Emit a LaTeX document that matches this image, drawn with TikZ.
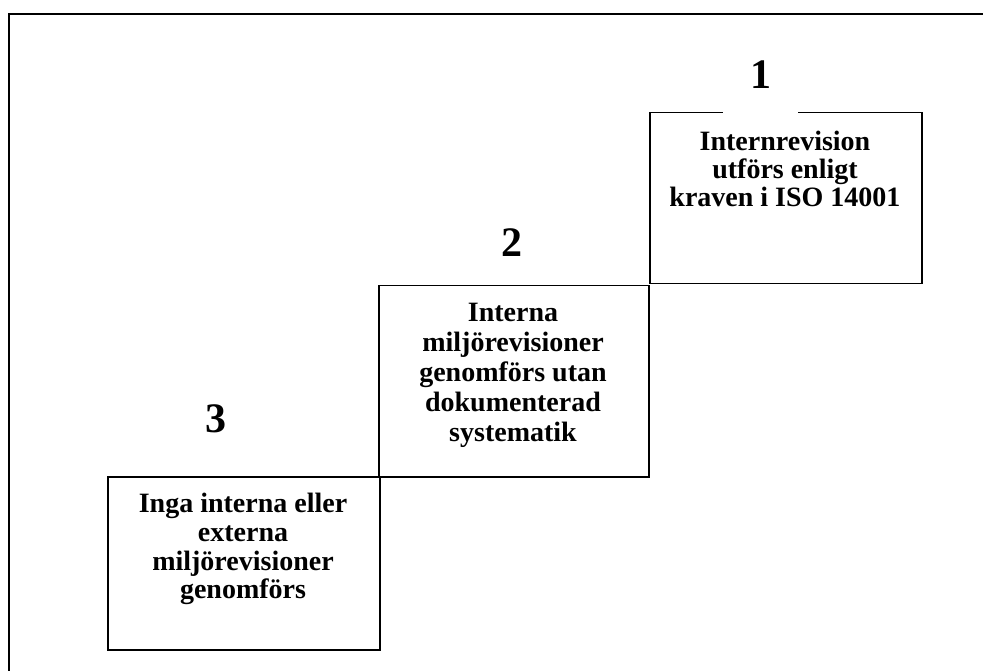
\documentclass[tikz,border=0pt]{standalone}
\usepackage{fontspec}
\setmainfont{Liberation Serif}
\begin{document}
\begin{tikzpicture}[x=1pt,y=-1pt,
  stepbox/.style={draw=black, line width=1.5pt, inner sep=0pt, anchor=north west},
  steptext/.style={align=center, inner sep=0pt, anchor=north, font=\fontsize{28}{28.4}\selectfont\bfseries},
  stepnum/.style={inner sep=0pt, anchor=base, font=\fontsize{42}{42}\selectfont\bfseries}]
\useasboundingbox (0,0) rectangle (983,671);
\draw[line width=2pt] (9,14) rectangle (995,690);
% boxes
\node[stepbox, minimum width=272pt, minimum height=171pt] (b1) at (649,112) {};
\node[stepbox, minimum width=270pt, minimum height=191pt] (b2) at (378,285) {};
\node[stepbox, minimum width=272pt, minimum height=173pt] (b3) at (107,476) {};
% number labels
\node[stepnum, fill=white, minimum width=75pt, text height=30pt, text depth=24pt] (n1) at (760.5,89) {1};
\node[stepnum] (n2) at (512,257) {2};
\node[stepnum] (n3) at (216,432) {3};
% texts
\node[steptext] (t1) at (785,130.5) {Internrevision\\utförs enligt\\kraven i ISO 14001};
\node[steptext, font=\fontsize{28}{30}\selectfont\bfseries] (t2) at (513,302.5) {Interna\\miljörevisioner\\genomförs utan\\dokumenterad\\systematik};
\node[steptext, font=\fontsize{28}{28.7}\selectfont\bfseries] (t3) at (243,493) {Inga interna eller\\externa\\miljörevisioner\\genomförs};
\end{tikzpicture}
\end{document}
